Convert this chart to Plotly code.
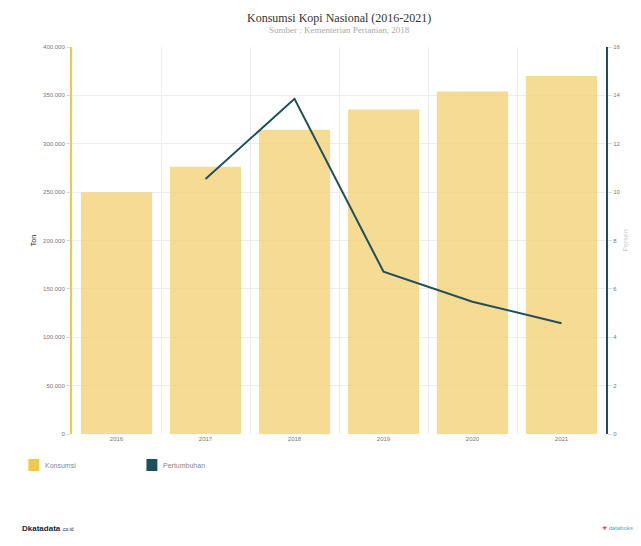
import plotly.graph_objects as go

years = ["2016", "2017", "2018", "2019", "2020", "2021"]
konsumsi = [249824, 276159, 314425, 335520, 353885, 370088]
growth_years = ["2017", "2018", "2019", "2020", "2021"]
pertumbuhan = [10.54, 13.86, 6.71, 5.47, 4.58]
left_ticks = [0, 50000, 100000, 150000, 200000, 250000, 300000, 350000, 400000]
left_labels = ["0", "50.000", "100.000", "150.000", "200.000", "250.000", "300.000", "350.000", "400.000"]
right_ticks = [0, 2, 4, 6, 8, 10, 12, 14, 16]

BAR = "rgba(244,210,120,0.8)"
LINE = "#1f4f5c"
GOLD = "#f2c84b"

PW, PH = 538, 387  # plot area size in px

fig = go.Figure()
fig.add_trace(go.Bar(x=years, y=konsumsi, name="Konsumsi", marker=dict(color=BAR, line=dict(width=0)),
                     width=0.8, yaxis="y"))
fig.add_trace(go.Scatter(x=growth_years, y=pertumbuhan, name="Pertumbuhan", mode="lines",
                         line=dict(color=LINE, width=2), yaxis="y2"))

fig.update_layout(
    width=633, height=538,
    margin=dict(l=64, r=31, t=39, b=112),
    paper_bgcolor="white", plot_bgcolor="white",
    showlegend=False,
    bargap=0.2,
    xaxis=dict(type="category", tickson="boundaries", showgrid=True, gridcolor="#ececf2", gridwidth=1,
               ticks="", tickfont=dict(size=6, color="#777", family="Liberation Sans"), showline=False,
               zeroline=False),
    yaxis=dict(range=[0, 400000], tickvals=left_ticks, ticktext=left_labels, showgrid=True,
               gridcolor="#ececf2", showline=True, linecolor=GOLD, linewidth=2, ticks="outside",
               ticklen=4, tickcolor="#ddd", tickfont=dict(size=6, color="#777", family="Liberation Sans"),
               title=dict(text="Ton", font=dict(size=7, color="#222", family="Liberation Sans"), standoff=6),
               zeroline=False),
    yaxis2=dict(range=[0, 16], tickvals=right_ticks, overlaying="y", side="right", showgrid=False,
                showline=True, linecolor=LINE, linewidth=2, ticks="outside", ticklen=4, tickcolor="#ddd",
                tickfont=dict(size=6, color="#777", family="Liberation Sans"),
                title=dict(text="Persen", font=dict(size=7, color="#ccc", family="Liberation Sans"), standoff=4),
                zeroline=False),
)

# title / subtitle
fig.add_annotation(text="Konsumsi Kopi Nasional (2016-2021)", xref="paper", yref="paper",
                   x=0.5, y=1, yshift=29, yanchor="middle", showarrow=False,
                   font=dict(size=12, color="#333", family="Liberation Serif"))
fig.add_annotation(text="Sumber : Kementerian Pertanian, 2018", xref="paper", yref="paper",
                   x=0.5, y=1, yshift=17, yanchor="middle", showarrow=False,
                   font=dict(size=9, color="#aaa", family="Liberation Serif"))

# custom legend
def swatch(x0px, color, label):
    fig.add_shape(type="rect", xref="paper", yref="paper",
                  x0=x0px / PW, x1=(x0px + 11) / PW, y0=-37 / PH, y1=-25 / PH,
                  fillcolor=color, line=dict(width=0))
    fig.add_annotation(text=label, xref="paper", yref="paper", x=(x0px + 15) / PW, y=-31 / PH,
                       xanchor="left", yanchor="middle", showarrow=False,
                       font=dict(size=7, color="#888", family="Liberation Sans"))

swatch(-44, "#f2c84b", "Konsumsi")
swatch(75, "#1f4f5c", "Pertumbuhan")

# footer
fig.add_annotation(text="<b>D</b><b>katadata</b><span style='font-size:5px'> .co.id</span>",
                   xref="paper", yref="paper", x=-52 / PW, y=-94 / PH, xanchor="left", yanchor="middle",
                   showarrow=False, font=dict(size=8, color="#1a2740", family="Liberation Sans"))
fig.add_annotation(text="<span style='color:#d9534f'>❖</span> databoks",
                   xref="paper", yref="paper", x=1 + 29 / PW, y=-94 / PH, xanchor="right", yanchor="middle",
                   showarrow=False, font=dict(size=6, color="#5aa7b8", family="Liberation Sans"))

fig.write_html("out.html")
